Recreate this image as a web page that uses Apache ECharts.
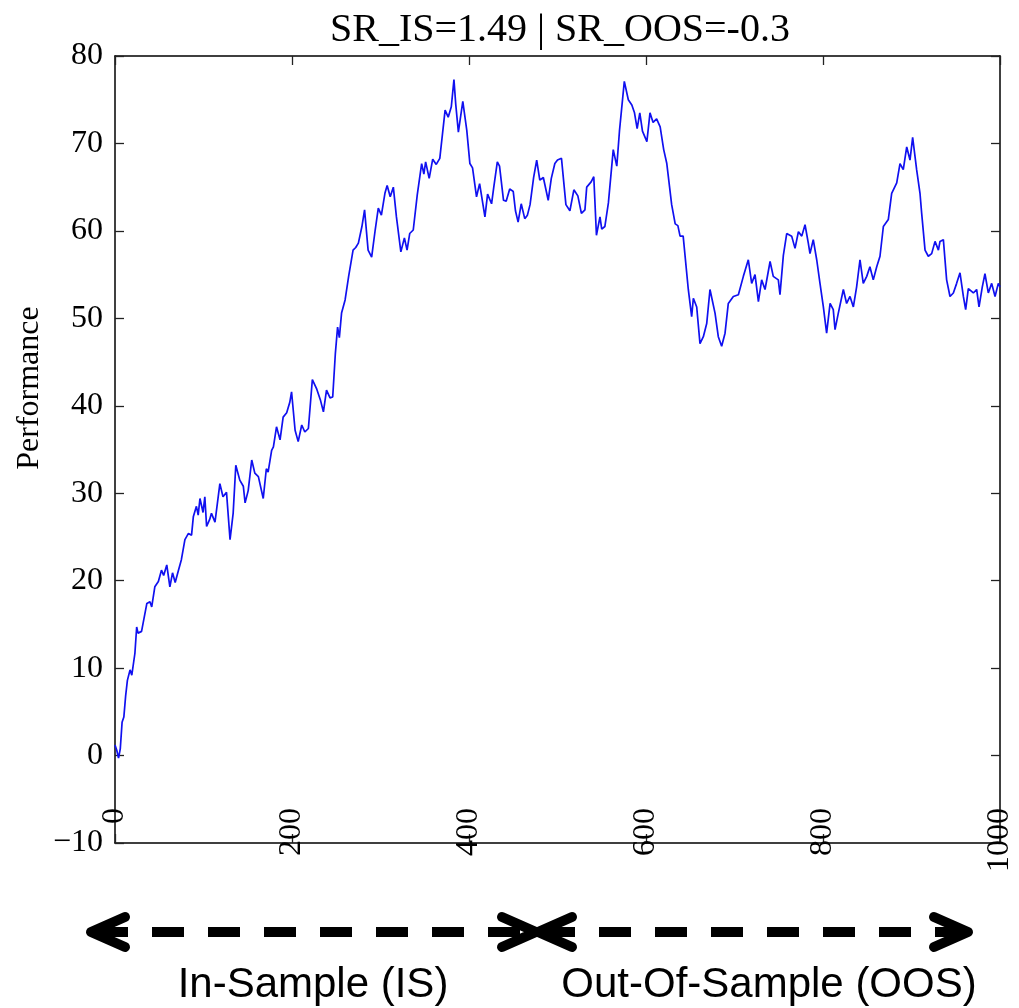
<!DOCTYPE html>
<html>
<head>
<meta charset="utf-8">
<script src="https://cdn.jsdelivr.net/npm/echarts@6/dist/echarts.min.js"></script>
<style>
html,body{margin:0;padding:0;background:#fff;}
#chart{width:1019px;height:1008px;}
</style>
</head>
<body>
<div id="chart"></div>
<script>
const titleText = 'SR_IS=1.49 | SR_OOS=-0.3';
const yAxisName = 'Performance';
const regionLabels = ['In-Sample (IS)', 'Out-Of-Sample (OOS)'];
const xTicks = [0, 200, 400, 600, 800, 1000];
const yTicks = [-10, 0, 10, 20, 30, 40, 50, 60, 70, 80];

const steps = [0,2,4,6,8,10,12,14,17,19,22.5,24.5,26,28,30,32,36,39.5,41.5,45,49,52.5,55,58.5,62,65,68,71.5,75,79,83,86.5,88.5,92,94,96,99.5,101.5,103.5,107,109,113,118.5,122,126,130,133.5,136.5,141,145,147,150.5,154.5,158,162,167.5,171,173,177,179,182.5,186.5,190,194,197.5,199.5,203.5,207,211,214.5,218.5,223,228,232,235.5,239,243,246,249,251.5,253.5,256,260,264,269,272,275,279,282,286,290,294,297.5,301,305,307.5,311,314.5,318,323,327,330,333,337,341.5,346.5,349,351,355,359,363,367,373,376.5,380,383,385,388,393,397.5,401,404,408.5,412,418,421,425.5,428,432,434.5,439,442,446,450,452.5,455.5,459,463,466,469,473,476.5,480,484,489.5,493,497,500,504.5,509.5,514,518.5,523,527,531,533,538,541,544,548,550,553.5,557.5,563,567,570,575.5,580,584,587,590,593,596,601,604.5,608,612,616,620,623.5,629,633,636,638.5,642,647.8,651.6,653.5,657.3,661,664.8,668.6,672.3,678,681.7,685.5,689.3,693,698.7,704.4,710,715.6,719.4,723.2,727,730.7,734.5,740.2,743.8,749.5,751.4,755.2,759,764.6,768.4,772.2,776,779.7,783.4,785.3,789,792.9,796.6,800.4,804.1,808,811.6,813.6,817.3,823,826.7,830.5,834.3,838,841.8,845.5,849.4,853,856.8,860.7,864.4,868.2,873.8,877.6,883.3,887,890.7,894.6,898.3,901.3,905.8,909.6,911.5,915.3,919,922.8,926.6,930.4,932.2,936,939.7,943.5,947.3,951,954.8,958.6,961.2,964.2,969.9,973.6,976.3,980,983,986.8,990.6,994.4,998.1,1000];

const performance = [1.2,0.6,-0.3,0.8,3.8,4.4,6.8,8.6,9.8,9.2,11.7,14.7,14.0,13.8,14.2,14.4,17.4,17.6,17.0,19.3,19.9,21.2,20.6,21.8,19.3,20.9,19.8,21.1,22.4,24.7,25.4,25.2,27.3,28.5,27.5,29.4,27.8,29.6,26.2,27.0,27.7,26.7,31.1,29.6,30.1,24.7,27.7,33.2,31.5,30.8,28.9,30.3,33.8,32.3,31.9,29.4,32.8,32.4,34.9,35.3,37.6,36.1,38.7,39.2,40.4,41.6,37.2,35.9,37.8,37.0,37.4,43.0,41.9,40.7,39.3,41.8,40.9,41.0,46.0,49.0,47.8,50.6,52.1,54.8,57.8,58.1,58.6,60.5,62.4,57.8,57.0,60.1,62.6,61.8,64.3,65.2,63.9,65.0,61.6,57.6,59.2,57.8,59.7,60.1,64.1,67.7,66.5,67.9,66.0,68.2,67.6,68.3,73.8,73.0,74.2,77.3,74.5,71.3,74.8,71.5,67.7,67.2,63.9,65.4,61.6,64.2,63.1,65.0,67.9,67.4,63.5,63.4,64.8,64.5,62.3,61.0,63.1,61.4,61.8,63.0,66.1,68.1,65.8,66.1,63.5,66.0,67.7,68.1,68.3,63.0,62.3,64.7,64.0,62.0,62.4,65.0,65.6,66.2,59.5,61.6,60.2,60.5,63.2,69.3,67.4,71.4,77.1,75.0,74.4,73.5,71.7,73.5,71.4,70.2,73.5,72.4,72.8,71.9,69.3,67.7,63.0,60.8,60.6,59.4,59.4,53.3,50.2,52.3,51.3,47.1,47.9,49.4,53.3,50.6,47.9,46.8,48.3,51.7,52.5,52.7,54.8,56.7,54.0,55.0,51.9,54.4,53.3,56.5,54.8,54.4,52.7,57.2,59.7,59.4,58.0,59.9,59.4,60.7,58.6,57.4,59.0,56.7,54.0,51.3,48.3,51.7,51.0,48.7,50.6,53.3,51.7,52.5,51.3,53.6,56.7,54.0,54.8,55.9,54.4,55.9,57.1,60.5,61.3,64.3,65.5,67.7,67.0,69.6,68.1,70.7,67.0,64.3,62.0,57.8,57.1,57.4,58.8,57.8,58.8,59.0,54.4,52.5,52.9,54.0,55.2,52.5,51.0,53.4,52.9,53.3,51.3,53.6,55.1,52.9,54.0,52.5,54.0,53.6];

const seriesData = steps.map((s, i) => [s, performance[i]]);

const serif = '"Liberation Serif", "Times New Roman", serif';
const sans = '"Liberation Sans", Arial, Helvetica, sans-serif';
const lineStyleAxis = { color: '#000', width: 1.5 };
const tickInside = { show: true, inside: true, length: 9, lineStyle: { color: '#222', width: 1.3 } };

const chart = echarts.init(document.getElementById('chart'), null, { renderer: 'canvas' });

const arrowStyle = { stroke: '#000', lineWidth: 10, lineCap: 'round', lineJoin: 'round', fill: null };

chart.setOption({
  animation: false,
  backgroundColor: '#fff',
  title: {
    text: titleText,
    left: 555, top: 5, textAlign: 'center',
    textStyle: { fontFamily: serif, fontSize: 40, fontWeight: 'normal', color: '#000' }
  },
  grid: { left: 115, right: 19, top: 56, bottom: 165, containLabel: false },
  xAxis: [{
    type: 'value', min: xTicks[0], max: xTicks[xTicks.length - 1], interval: 200,
    position: 'bottom',
    axisLine: { show: true, onZero: false, lineStyle: lineStyleAxis },
    axisTick: tickInside,
    splitLine: { show: false },
    axisLabel: { show: true, rotate: 90, margin: -35, fontFamily: serif, fontSize: 32, color: '#000', showMinLabel: true, showMaxLabel: true, hideOverlap: false, formatter: v => String(v) }
  }, {
    type: 'value', min: xTicks[0], max: xTicks[xTicks.length - 1], interval: 200,
    position: 'top',
    axisLine: { show: true, onZero: false, lineStyle: lineStyleAxis },
    axisTick: tickInside,
    splitLine: { show: false },
    axisLabel: { show: false }
  }],
  yAxis: [{
    type: 'value', min: yTicks[0], max: yTicks[yTicks.length - 1], interval: 10,
    position: 'left',
    axisLine: { show: true, onZero: false, lineStyle: lineStyleAxis },
    axisTick: tickInside,
    splitLine: { show: false },
    axisLabel: {
      show: true, margin: 12, fontFamily: serif, fontSize: 32, color: '#000',
      formatter: v => (v < 0 ? '\u2212' + Math.abs(v) : String(v))
    }
  }, {
    type: 'value', min: yTicks[0], max: yTicks[yTicks.length - 1], interval: 10,
    position: 'right',
    axisLine: { show: true, onZero: false, lineStyle: lineStyleAxis },
    axisTick: tickInside,
    splitLine: { show: false },
    axisLabel: { show: false }
  }],
  series: [{
    type: 'line',
    xAxisIndex: 0, yAxisIndex: 0,
    data: seriesData,
    showSymbol: false,
    smooth: false,
    lineStyle: { color: '#1010f0', width: 1.7 },
    z: 3
  }],
  graphic: [
    { type: 'text', x: 30, y: 388, rotation: Math.PI / 2,
      style: { text: yAxisName, font: '32px ' + serif, fill: '#000', align: 'center', verticalAlign: 'middle' } },
    // In-Sample arrow
    { type: 'line', shape: { x1: 96, y1: 932, x2: 531, y2: 932 }, style: { stroke: '#000', lineWidth: 10, lineDash: [32, 24] } },
    { type: 'polyline', shape: { points: [[125, 917], [91, 932], [125, 947]] }, style: arrowStyle },
    { type: 'polyline', shape: { points: [[502, 917], [536, 932], [502, 947]] }, style: arrowStyle },
    // Out-Of-Sample arrow
    { type: 'line', shape: { x1: 543, y1: 932, x2: 962, y2: 932 }, style: { stroke: '#000', lineWidth: 10, lineDash: [32, 24] } },
    { type: 'polyline', shape: { points: [[572, 917], [538, 932], [572, 947]] }, style: arrowStyle },
    { type: 'polyline', shape: { points: [[934, 917], [968, 932], [934, 947]] }, style: arrowStyle },
    { type: 'text', x: 313, y: 985, style: { text: regionLabels[0], font: '42px ' + sans, fill: '#000', align: 'center', verticalAlign: 'middle' } },
    { type: 'text', x: 769, y: 985, style: { text: regionLabels[1], font: '42px ' + sans, fill: '#000', align: 'center', verticalAlign: 'middle' } }
  ]
});
</script>
</body>
</html>
